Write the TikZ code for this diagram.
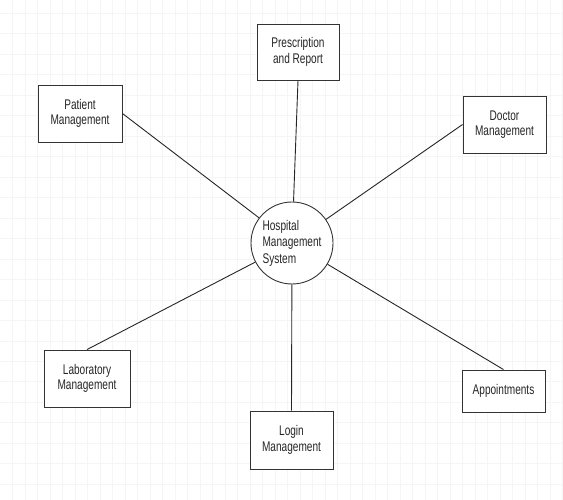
\documentclass[tikz,border=0pt]{standalone}
\usepackage{fontspec}
\setmainfont{Liberation Sans}[FakeStretch=0.72]
\begin{document}
\begin{tikzpicture}[x=1pt,y=-1pt,
  gridline/.style={draw=black!4, line width=0.8pt},
  box/.style={draw=black!80, line width=0.9pt, fill=white, align=center, inner sep=0pt,
    text=black!85, font=\fontsize{14}{15.5}\selectfont},
  hub/.style={circle, draw=black!80, line width=0.9pt, fill=white, align=left, inner sep=0pt,
    text=black!85, minimum size=82pt, font=\fontsize{14}{16.5}\selectfont},
  link/.style={draw=black!85, line width=0.9pt}]
\useasboundingbox (0,0) rectangle (563,500);
\fill[white] (0,0) rectangle (563,500);
\foreach \i in {0,...,44} \draw[gridline] ({12.7+12.5*\i},0) -- ({12.7+12.5*\i},500);
\foreach \j in {0,...,23} \draw[gridline] (0,{13.3+20.476*\j}) -- (563,{13.3+20.476*\j});

\node[hub] (hms) at (292,243) {Hospital\\Management\\System};
\node[box, minimum width=82pt, minimum height=56pt] (presc) at (298,52) {Prescription\\and Report};
\node[box, minimum width=84pt, minimum height=57pt] (patient) at (80,113.5) {Patient\\Management};
\node[box, minimum width=83pt, minimum height=57pt] (doctor) at (504.5,124.5) {Doctor\\Management};
\node[box, minimum width=86pt, minimum height=57pt] (lab) at (87,378.5) {Laboratory\\Management};
\node[box, minimum width=83pt, minimum height=58pt] (login) at (291.5,440) {Login\\Management};
\node[box, minimum width=83pt, minimum height=42pt] (appt) at (503.5,391) {Appointments};

\draw[link] (presc.south) -- (hms);
\draw[link] (patient.east) -- (hms);
\draw[link] (doctor.west) -- (hms);
\draw[link] (lab.north) -- (hms);
\draw[link] (login.north) -- (hms);
\draw[link] (appt.north) -- (hms);
\end{tikzpicture}
\end{document}
